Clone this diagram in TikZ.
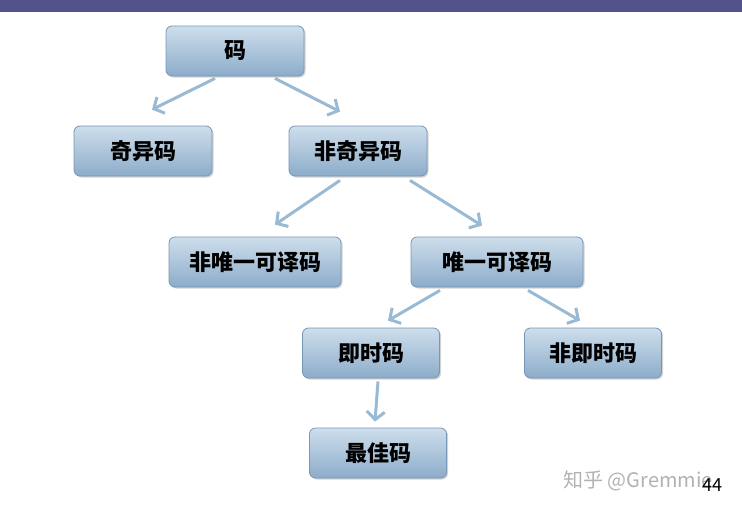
\documentclass[tikz,border=0pt]{standalone}
\usepackage{fontspec}
\newfontfamily\cjk{Noto Sans CJK SC}
\usetikzlibrary{arrows.meta,shadows,calc}
\definecolor{barblue}{RGB}{84,82,140}
\definecolor{boxtop}{RGB}{206,222,236}
\definecolor{boxbot}{RGB}{140,172,202}
\definecolor{boxline}{RGB}{120,150,182}
\definecolor{arrowblue}{RGB}{152,186,212}
\tikzset{
  code/.style={draw=boxline, line width=0.8pt, rounded corners=6pt, top color=boxtop, bottom color=boxbot,
    minimum height=50pt, font=\cjk\bfseries\fontsize{22}{24}\selectfont,
    drop shadow={shadow xshift=1.5pt, shadow yshift=-1.5pt, opacity=0.35}},
  link/.style={draw=arrowblue, line width=3pt, -{Straight Barb[length=8pt,width=18pt,line width=3pt]}}
}
\begin{document}
\begin{tikzpicture}[x=1pt,y=-1pt]
\useasboundingbox (0,0) rectangle (742,509);
\fill[barblue] (0,0) rectangle (742,12);

\node[code, minimum width=138pt] (ma) at (235,51) {码};
\node[code, minimum width=138pt] (qiyi) at (143,151) {奇异码};
\node[code, minimum width=138pt] (feiqiyi) at (358,151) {非奇异码};
\node[code, minimum width=172pt] (feiweiyi) at (255,262) {非唯一可译码};
\node[code, minimum width=172pt] (weiyi) at (497,262) {唯一可译码};
\node[code, minimum width=137pt] (jishi) at (371,353) {即时码};
\node[code, minimum width=137pt] (feijishi) at (593,353) {非即时码};
\node[code, minimum width=137pt] (zuijia) at (378,453) {最佳码};

\draw[link] ([xshift=-20pt,yshift=-2pt]ma.south) -- ([xshift=9pt,yshift=16pt]qiyi.north);
\draw[link] ([xshift=40pt,yshift=-2pt]ma.south) -- ([xshift=-18pt,yshift=14pt]feiqiyi.north);
\draw[link] ([xshift=-18pt,yshift=-4pt]feiqiyi.south) -- ([xshift=20pt,yshift=12pt]feiweiyi.north);
\draw[link] ([xshift=52pt,yshift=-4pt]feiqiyi.south) -- ([xshift=-15pt,yshift=11pt]weiyi.north);
\draw[link] ([xshift=-57pt,yshift=-3pt]weiyi.south) -- ([xshift=17pt,yshift=7pt]jishi.north);
\draw[link] ([xshift=31pt,yshift=-3pt]weiyi.south) -- ([xshift=-13pt,yshift=7pt]feijishi.north);
\draw[link] ([xshift=7pt,yshift=-3pt]jishi.south) -- ([xshift=-3pt,yshift=6pt]zuijia.north);

\node[font=\cjk\fontsize{20}{24}\selectfont, text=black!30, anchor=west] (mark) at (560,481) {知乎 @Gremmie};
\node[font=\cjk\fontsize{18}{20}\selectfont, anchor=east] (page) at (726,485) {44};
\end{tikzpicture}
\end{document}
